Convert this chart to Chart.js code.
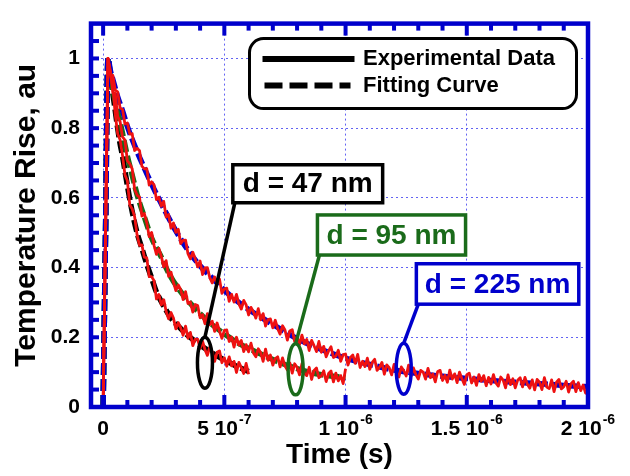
<!DOCTYPE html>
<html>
<head>
<meta charset="utf-8">
<script src="https://cdn.jsdelivr.net/npm/chart.js@4.4.1/dist/chart.umd.min.js"></script>
<style>
  html, body { margin: 0; padding: 0; background: #ffffff; }
  #wrap { width: 630px; height: 476px; }
</style>
</head>
<body>
<div id="wrap"><canvas id="chart" width="630" height="476"></canvas></div>
<script>
// ---- Transient thermoreflectance traces for three film thicknesses ----
// The digitiser records one sample every 10 ns, starting at t = 0.
const SAMPLE_STEP_S = 1e-8;

const seriesNames = ['d = 47 nm', 'd = 95 nm', 'd = 225 nm'];

// Measured (normalised) temperature rise, one value per sample
const exp47 = [
  0, 0.5, 1.0, 0.956, 0.918, 0.84, 0.784, 0.767, 0.722, 0.666,
  0.649, 0.58, 0.568, 0.546, 0.494, 0.464, 0.465, 0.43, 0.428, 0.374,
  0.374, 0.362, 0.31, 0.323, 0.293, 0.308, 0.274, 0.253, 0.271, 0.255,
  0.224, 0.242, 0.227, 0.206, 0.232, 0.197, 0.214, 0.176, 0.195, 0.195,
  0.168, 0.189, 0.165, 0.148, 0.172, 0.159, 0.131, 0.157, 0.161, 0.127,
  0.141, 0.117, 0.144, 0.118, 0.131, 0.099, 0.128, 0.113, 0.096, 0.125,
  0.094
];
const exp95 = [
  0, 0.5, 1.0, 0.964, 0.902, 0.9, 0.834, 0.819, 0.775, 0.766,
  0.706, 0.698, 0.683, 0.625, 0.608, 0.602, 0.548, 0.555, 0.529, 0.489,
  0.501, 0.464, 0.438, 0.455, 0.432, 0.402, 0.42, 0.375, 0.387, 0.358,
  0.334, 0.35, 0.337, 0.308, 0.331, 0.297, 0.301, 0.272, 0.294, 0.291,
  0.256, 0.265, 0.239, 0.268, 0.236, 0.246, 0.217, 0.241, 0.218, 0.197,
  0.22, 0.221, 0.188, 0.201, 0.172, 0.2, 0.178, 0.191, 0.159, 0.179,
  0.158, 0.183, 0.155, 0.144, 0.167, 0.156, 0.131, 0.166, 0.134, 0.149,
  0.12, 0.139, 0.144, 0.115, 0.141, 0.118, 0.106, 0.127, 0.097, 0.124,
  0.114, 0.092, 0.124, 0.096, 0.09, 0.114, 0.079, 0.105, 0.112, 0.084,
  0.089, 0.104, 0.073, 0.096, 0.103, 0.072, 0.097, 0.075, 0.09, 0.067,
  0.11
];
const exp225 = [
  0, 0.5, 1.0, 0.955, 0.952, 0.909, 0.904, 0.858, 0.854, 0.812,
  0.815, 0.783, 0.784, 0.736, 0.742, 0.736, 0.691, 0.683, 0.684, 0.637,
  0.646, 0.637, 0.595, 0.602, 0.576, 0.59, 0.545, 0.552, 0.513, 0.528,
  0.501, 0.51, 0.469, 0.478, 0.479, 0.44, 0.425, 0.444, 0.425, 0.402,
  0.419, 0.38, 0.399, 0.4, 0.371, 0.356, 0.373, 0.354, 0.367, 0.326,
  0.339, 0.341, 0.303, 0.323, 0.301, 0.323, 0.296, 0.281, 0.306, 0.293,
  0.264, 0.286, 0.273, 0.255, 0.282, 0.25, 0.268, 0.232, 0.251, 0.253,
  0.227, 0.249, 0.225, 0.209, 0.233, 0.221, 0.192, 0.218, 0.222, 0.188,
  0.202, 0.179, 0.206, 0.181, 0.194, 0.162, 0.191, 0.176, 0.159, 0.188,
  0.157, 0.174, 0.144, 0.161, 0.173, 0.142, 0.146, 0.163, 0.131, 0.15,
  0.152, 0.12, 0.142, 0.149, 0.125, 0.151, 0.113, 0.131, 0.116, 0.14,
  0.108, 0.128, 0.137, 0.105, 0.114, 0.128, 0.094, 0.121, 0.113, 0.092,
  0.122, 0.099, 0.086, 0.115, 0.104, 0.089, 0.12, 0.089, 0.112, 0.093,
  0.08, 0.105, 0.1, 0.08, 0.111, 0.084, 0.095, 0.072, 0.102, 0.105,
  0.076, 0.091, 0.071, 0.106, 0.08, 0.095, 0.07, 0.1, 0.081, 0.065,
  0.092, 0.097, 0.069, 0.086, 0.062, 0.093, 0.074, 0.09, 0.061, 0.085,
  0.066, 0.093, 0.069, 0.06, 0.086, 0.077, 0.055, 0.092, 0.064, 0.081,
  0.055, 0.077, 0.084, 0.058, 0.085, 0.065, 0.054, 0.078, 0.049, 0.079,
  0.071, 0.05, 0.084, 0.057, 0.053, 0.078, 0.044, 0.071, 0.079, 0.052,
  0.058, 0.074, 0.043, 0.067, 0.074, 0.044, 0.07, 0.047, 0.063, 0.04,
  0.038
];

// Model fits: times in microseconds, values normalised
const fitTime47 = [0, 0.01, 0.02, 0.03, 0.04, 0.05, 0.06, 0.07, 0.08, 0.10, 0.12, 0.14, 0.16, 0.18, 0.20, 0.22, 0.25, 0.28, 0.31, 0.35, 0.40, 0.45, 0.50, 0.55, 0.60];
const fit47 = [0, 0.5, 1.0, 0.95, 0.9, 0.85, 0.8, 0.755, 0.72, 0.635, 0.56, 0.5, 0.455, 0.41, 0.37, 0.33, 0.29, 0.255, 0.232, 0.205, 0.178, 0.155, 0.135, 0.117, 0.102];

const fitTime95 = [0, 0.01, 0.02, 0.03, 0.04, 0.06, 0.08, 0.10, 0.12, 0.14, 0.17, 0.20, 0.24, 0.27, 0.31, 0.35, 0.40, 0.45, 0.50, 0.55, 0.60, 0.65, 0.70, 0.75, 0.80, 0.85, 0.90, 0.95, 1.00];
const fit95 = [0, 0.5, 1.0, 0.95, 0.91, 0.85, 0.785, 0.72, 0.665, 0.61, 0.545, 0.485, 0.43, 0.385, 0.34, 0.305, 0.268, 0.236, 0.21, 0.186, 0.168, 0.152, 0.136, 0.122, 0.11, 0.1, 0.093, 0.088, 0.085];

const fitTime225 = [0, 0.01, 0.02, 0.03, 0.04, 0.06, 0.08, 0.10, 0.13, 0.17, 0.21, 0.25, 0.30, 0.35, 0.40, 0.45, 0.50, 0.55, 0.60, 0.65, 0.70, 0.80, 0.90, 1.00, 1.10, 1.20, 1.30, 1.40, 1.50, 1.60, 1.70, 1.80, 1.90, 2.00];
const fit225 = [0, 0.5, 1.0, 0.965, 0.94, 0.89, 0.85, 0.805, 0.75, 0.685, 0.625, 0.57, 0.505, 0.45, 0.405, 0.37, 0.335, 0.305, 0.28, 0.258, 0.237, 0.196, 0.165, 0.14, 0.122, 0.106, 0.096, 0.088, 0.082, 0.076, 0.071, 0.067, 0.062, 0.058];

// Axis ticks and labels
const xTickValues = [0, 5e-7, 1e-6, 1.5e-6, 2e-6];
const xTickMantissa = ['0', '5 10', '1 10', '1.5 10', '2 10'];
const xTickExponent = ['', '-7', '-6', '-6', '-6'];
const yTickValues = [0, 0.2, 0.4, 0.6, 0.8, 1];
const yTickLabels = ['0', '0.2', '0.4', '0.6', '0.8', '1'];
const legendLabels = ['Experimental Data', 'Fitting Curve'];

// ---- Styling ----
const FONT = "'Liberation Sans', Arial, Helvetica, sans-serif";
const FRAME_BLUE = '#0000cc';
const GRID_BLUE = 'rgba(60, 60, 240, 0.8)';
const DATA_RED = '#ee1111';
const seriesColors = ['#000000', '#1a6b1a', '#0000cc'];

const toExpPoints = (values) => values.map((v, i) => ({ x: i * SAMPLE_STEP_S, y: v }));
const toFitPoints = (times, values) => values.map((v, i) => ({ x: times[i] * 1e-6, y: v }));

const expStyle = {
  borderColor: DATA_RED, borderWidth: 2.8, pointRadius: 0,
  borderJoinStyle: 'round', tension: 0, order: 0
};
const fitStyle = (color) => ({
  borderColor: color, borderWidth: 5.5, pointRadius: 0,
  borderDash: [12, 4], cubicInterpolationMode: 'monotone', order: 1
});

const datasets = [
  { label: seriesNames[2] + ' data', data: toExpPoints(exp225), ...expStyle },
  { label: seriesNames[1] + ' data', data: toExpPoints(exp95), ...expStyle },
  { label: seriesNames[0] + ' data', data: toExpPoints(exp47), ...expStyle },
  { label: seriesNames[2] + ' fit', data: toFitPoints(fitTime225, fit225), ...fitStyle(seriesColors[2]) },
  { label: seriesNames[1] + ' fit', data: toFitPoints(fitTime95, fit95), ...fitStyle(seriesColors[1]) },
  { label: seriesNames[0] + ' fit', data: toFitPoints(fitTime47, fit47), ...fitStyle(seriesColors[0]) }
];

// Thickness call-outs: box corners and ring centre in data units (s, au)
const callouts = [
  { text: seriesNames[0], color: seriesColors[0], box: [0.535e-6, 0.695, 1.153e-6, 0.586], ring: [0.420e-6, 0.127] },
  { text: seriesNames[1], color: seriesColors[1], box: [0.884e-6, 0.551, 1.495e-6, 0.436], ring: [0.794e-6, 0.108] },
  { text: seriesNames[2], color: seriesColors[2], box: [1.292e-6, 0.411, 1.962e-6, 0.295], ring: [1.240e-6, 0.110] }
];

function roundedRect(ctx, x, y, w, h, r) {
  ctx.beginPath();
  ctx.moveTo(x + r, y);
  ctx.lineTo(x + w - r, y);
  ctx.arcTo(x + w, y, x + w, y + r, r);
  ctx.lineTo(x + w, y + h - r);
  ctx.arcTo(x + w, y + h, x + w - r, y + h, r);
  ctx.lineTo(x + r, y + h);
  ctx.arcTo(x, y + h, x, y + h - r, r);
  ctx.lineTo(x, y + r);
  ctx.arcTo(x, y, x + r, y, r);
  ctx.closePath();
}

const decorations = {
  id: 'decorations',
  afterDraw(chart) {
    const { ctx, chartArea: a, scales: { x, y } } = chart;
    ctx.save();

    // Inward tick marks: minor every 1e-7 s / 0.05, major at labelled values
    ctx.fillStyle = FRAME_BLUE;
    for (let i = 0; i < 20; i++) {
      const px = x.getPixelForValue(i * 1e-7);
      const len = (i % 5 === 0 ? 10 : 5) + 2;
      ctx.fillRect(px - 2, a.bottom - len, 4, len);
      ctx.fillRect(px - 2, a.top, 4, len);
    }
    for (let i = 1; i < 22; i++) {
      const py = y.getPixelForValue(i * 0.05);
      ctx.fillRect(a.left, py - 2, 8, 4);
    }

    // Plot frame
    ctx.strokeStyle = FRAME_BLUE;
    ctx.lineWidth = 4.5;
    ctx.strokeRect(a.left, a.top, a.right - a.left, a.bottom - a.top);

    // X tick labels with powers of ten
    const baseFont = 'bold 21px ' + FONT;
    const expFont = 'bold 14px ' + FONT;
    ctx.fillStyle = '#000000';
    ctx.textBaseline = 'alphabetic';
    ctx.textAlign = 'left';
    xTickValues.forEach((v, i) => {
      const px = x.getPixelForValue(v);
      ctx.font = baseFont;
      const wb = ctx.measureText(xTickMantissa[i]).width;
      ctx.font = expFont;
      const we = xTickExponent[i] ? ctx.measureText(xTickExponent[i]).width + 1 : 0;
      const start = px - (wb + we) / 2;
      ctx.font = baseFont;
      ctx.fillText(xTickMantissa[i], start, a.bottom + 28);
      if (xTickExponent[i]) {
        ctx.font = expFont;
        ctx.fillText(xTickExponent[i], start + wb + 1, a.bottom + 17);
      }
    });

    // Legend
    const lw = 327, lh = 70;
    const lx = a.right - 11.5 - lw, ly = a.top + 15;
    roundedRect(ctx, lx, ly, lw, lh, 14);
    ctx.fillStyle = '#ffffff';
    ctx.fill();
    ctx.strokeStyle = '#000000';
    ctx.lineWidth = 3;
    ctx.stroke();
    ctx.lineWidth = 6;
    ctx.lineCap = 'butt';
    const rows = [ly + 20.5, ly + 47];
    ctx.setLineDash([]);
    ctx.beginPath(); ctx.moveTo(lx + 13, rows[0]); ctx.lineTo(lx + 105, rows[0]); ctx.stroke();
    ctx.setLineDash([18, 7]);
    ctx.beginPath(); ctx.moveTo(lx + 15, rows[1]); ctx.lineTo(lx + 101, rows[1]); ctx.stroke();
    ctx.setLineDash([]);
    ctx.fillStyle = '#000000';
    ctx.font = 'bold 22px ' + FONT;
    ctx.textBaseline = 'middle';
    legendLabels.forEach((t, i) => ctx.fillText(t, lx + 113.5, rows[i]));

    // Thickness call-outs
    callouts.forEach(c => {
      const bx0 = x.getPixelForValue(c.box[0]), by0 = y.getPixelForValue(c.box[1]);
      const bx1 = x.getPixelForValue(c.box[2]), by1 = y.getPixelForValue(c.box[3]);
      const cx = x.getPixelForValue(c.ring[0]), cy = y.getPixelForValue(c.ring[1]);
      const rx = 7.5, ry = 25.5;
      ctx.strokeStyle = c.color;
      ctx.lineWidth = 3.5;
      ctx.beginPath();
      ctx.moveTo(bx0 + 2, by1);
      ctx.lineTo(cx, cy - ry);
      ctx.stroke();
      ctx.beginPath();
      ctx.ellipse(cx, cy, rx, ry, 0, 0, Math.PI * 2);
      ctx.stroke();
      ctx.fillStyle = '#ffffff';
      ctx.fillRect(bx0, by0, bx1 - bx0, by1 - by0);
      ctx.strokeRect(bx0, by0, bx1 - bx0, by1 - by0);
      ctx.fillStyle = c.color;
      ctx.font = 'bold 28px ' + FONT;
      ctx.textAlign = 'center';
      ctx.textBaseline = 'middle';
      ctx.fillText(c.text, (bx0 + bx1) / 2, (by0 + by1) / 2 + 1);
      ctx.textAlign = 'left';
    });

    ctx.restore();
  }
};

new Chart(document.getElementById('chart'), {
  type: 'line',
  data: { datasets },
  options: {
    responsive: false,
    animation: false,
    devicePixelRatio: 1,
    events: [],
    layout: { padding: { top: 5, right: 42, left: 0, bottom: 0 } },
    plugins: { legend: { display: false }, tooltip: { enabled: false } },
    elements: { point: { radius: 0 } },
    scales: {
      x: {
        type: 'linear',
        min: -5e-8,
        max: 2e-6,
        afterBuildTicks: (axis) => { axis.ticks = xTickValues.map(v => ({ value: v })); },
        afterFit: (scale) => { scale.height = 69; },
        ticks: { display: false },
        grid: { color: GRID_BLUE, lineWidth: 1, drawTicks: false },
        border: { display: false, dash: [2, 3] },
        title: {
          display: true, text: 'Time (s)', color: '#000000',
          font: { family: FONT, size: 28, weight: 'bold' },
          padding: { top: 0, bottom: 4 }
        }
      },
      y: {
        type: 'linear',
        min: 0,
        max: 1.1,
        afterBuildTicks: (axis) => { axis.ticks = yTickValues.map(v => ({ value: v })); },
        afterFit: (scale) => { scale.width = 91; },
        ticks: {
          callback: (value, index) => yTickLabels[index],
          color: '#000000',
          font: { family: FONT, size: 21, weight: 'bold' },
          padding: 11
        },
        grid: { color: GRID_BLUE, lineWidth: 1, drawTicks: false },
        border: { display: false, dash: [2, 3] },
        title: {
          display: true, text: 'Temperature Rise, au', color: '#000000',
          font: { family: FONT, size: 30, weight: 'bold' },
          padding: { top: 9, bottom: 0 }
        }
      }
    }
  },
  plugins: [decorations]
});
</script>
</body>
</html>
